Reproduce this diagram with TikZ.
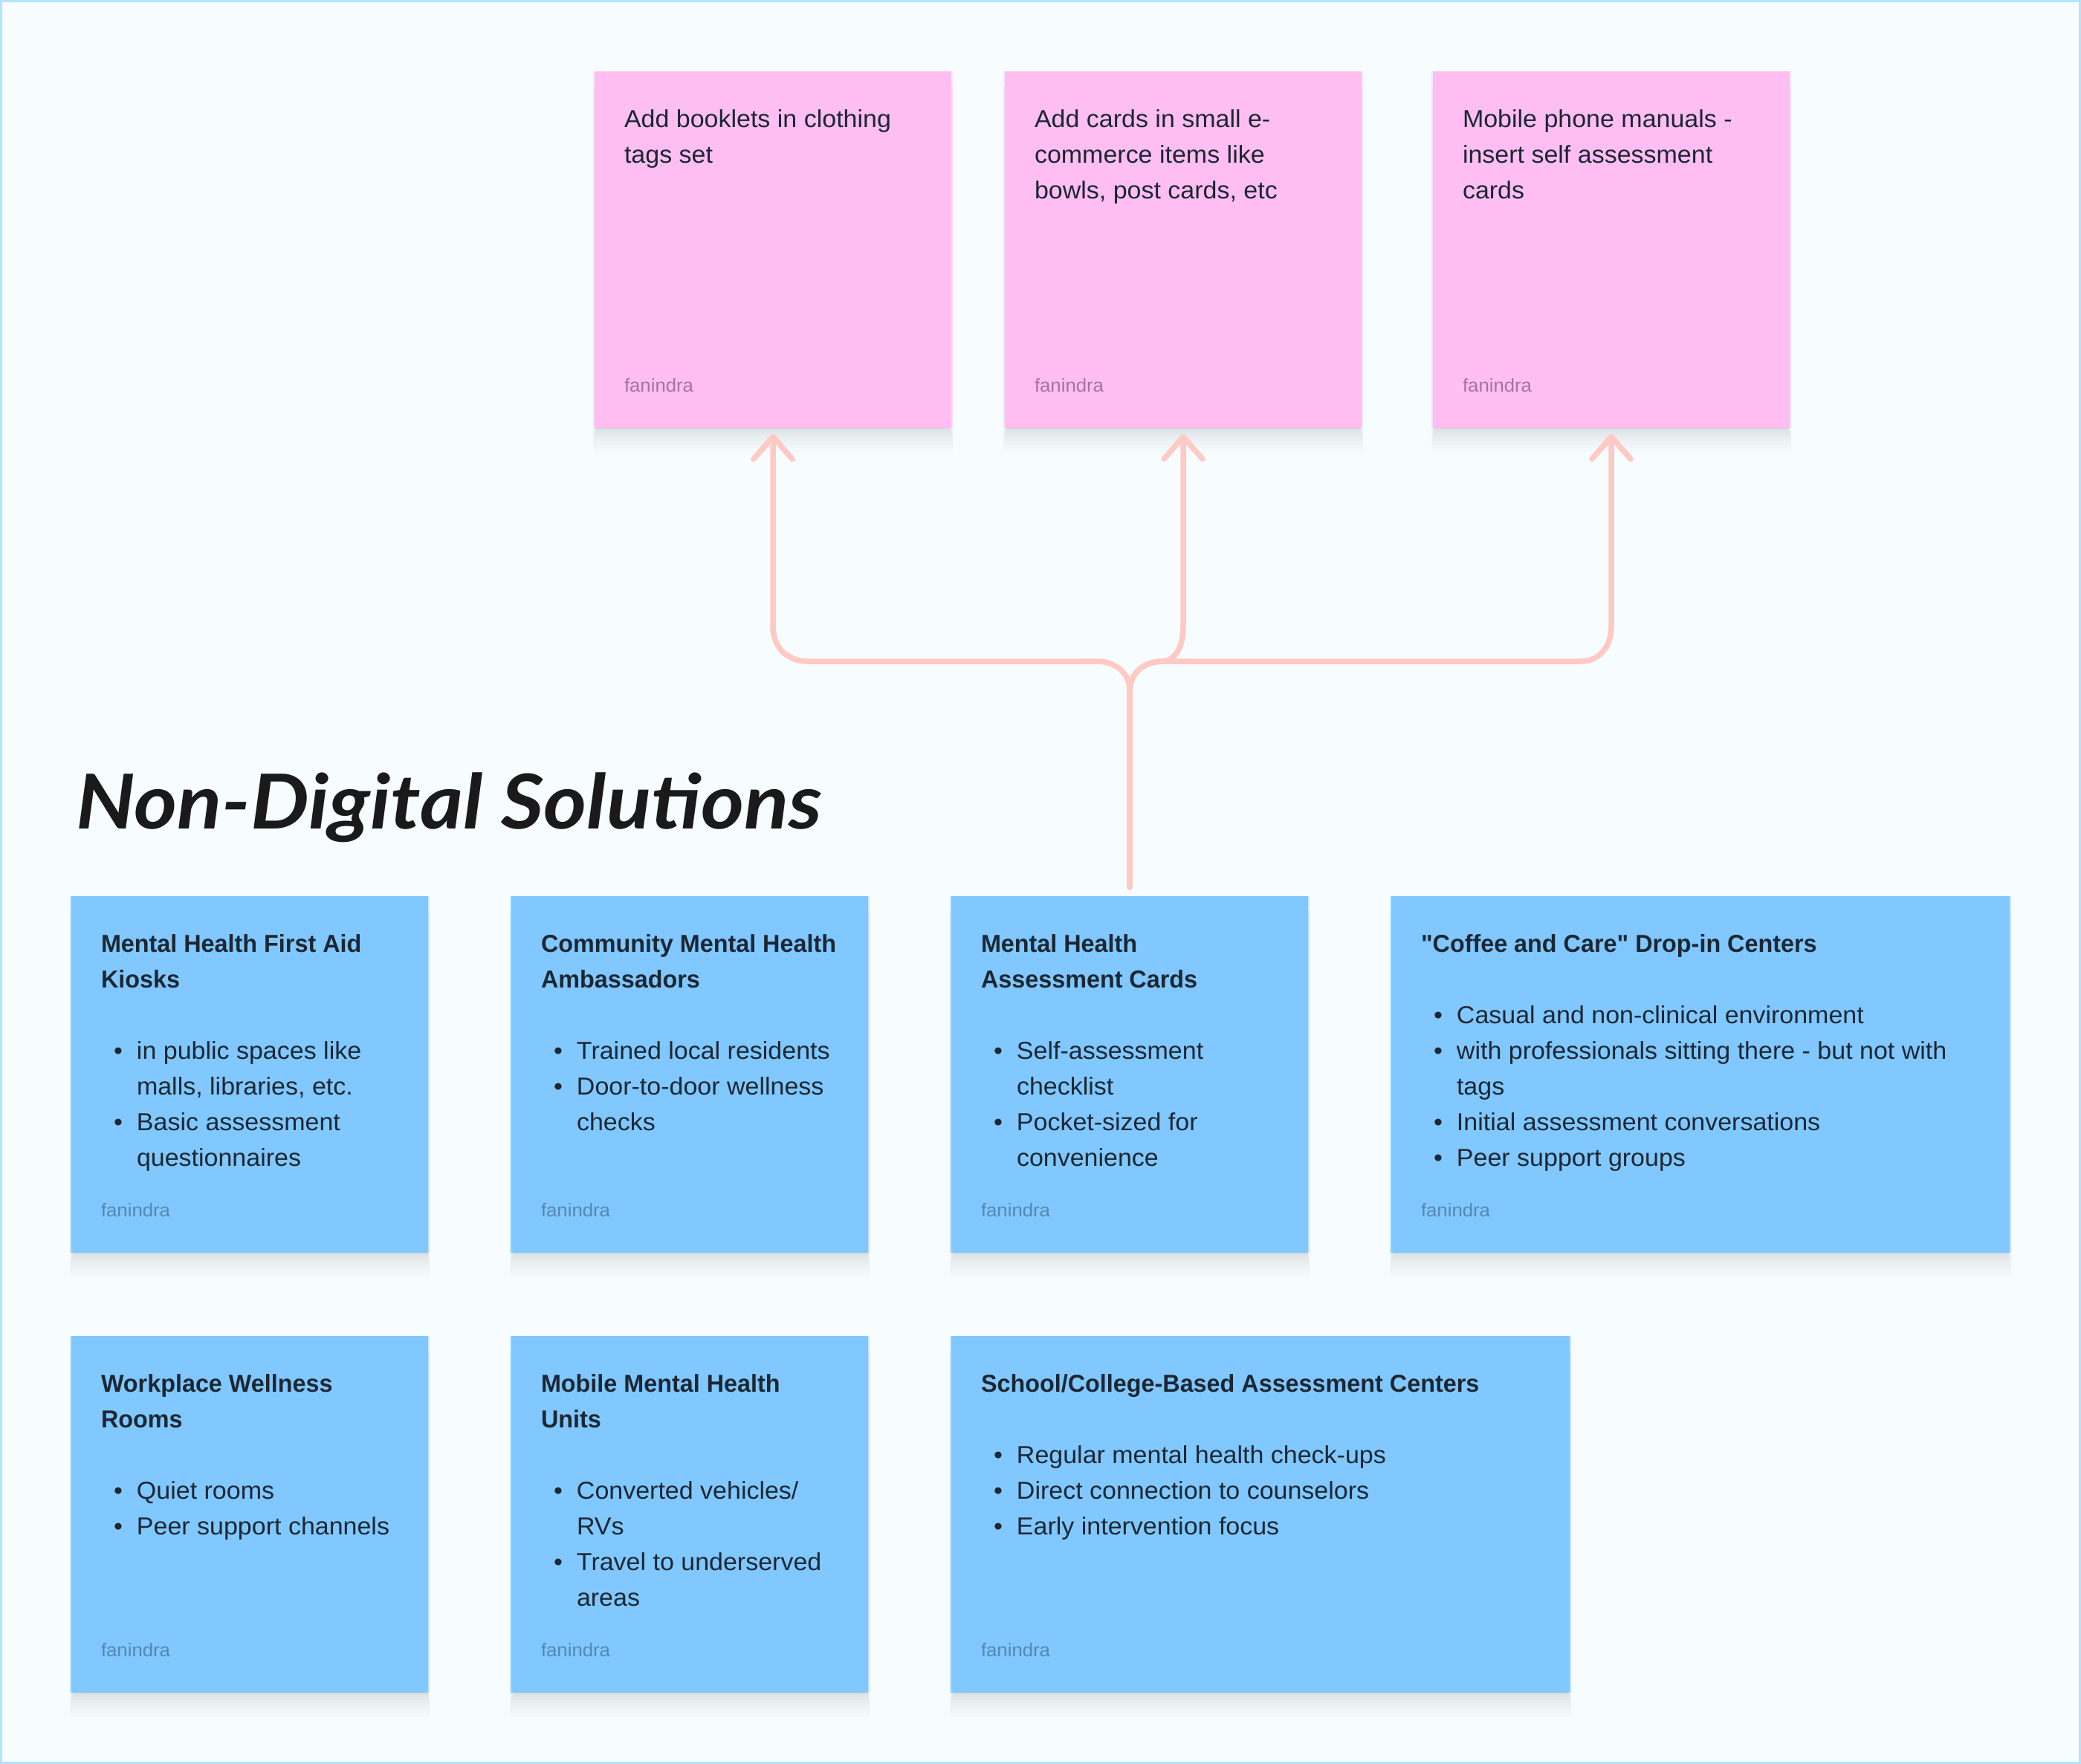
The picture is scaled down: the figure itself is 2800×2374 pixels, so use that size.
\documentclass[tikz,border=0pt]{standalone}
\usepackage{fontspec}
\usepackage{graphicx}
\setmainfont{Liberation Sans}[FakeStretch=1.03,BoldFeatures={FakeStretch=0.98}]
\newfontfamily\handfont{Lato}
\newfontfamily\quotefont{Liberation Sans Bold}[Ligatures=Common]
\usetikzlibrary{arrows.meta,calc}
\definecolor{pagebg}{HTML}{F7FCFF}
\definecolor{pageline}{HTML}{B2E4FF}
\definecolor{pinkcard}{HTML}{FFBEF2}
\definecolor{bluecard}{HTML}{80C8FF}
\definecolor{inkdark}{HTML}{1C2733}
\definecolor{titleink}{HTML}{1A1A1A}
\definecolor{pinkauthor}{HTML}{A2749C}
\definecolor{blueauthor}{HTML}{5688B2}
\definecolor{arrowpink}{HTML}{FFC9C4}
\newcommand{\B}{\strut\makebox[48pt][l]{\hspace{17pt}\textbullet}}
\newcommand{\I}{\strut\hspace*{48pt}}
\newcommand{\E}{\strut}
\newcommand{\T}[1]{\strut\textbf{#1}}
\newcommand{\Q}{{\quotefont\symbol{34}}}
% name, fill, author colour, x, y, width, text
\newcommand{\card}[7]{%
  \foreach \s in {0,1,...,11}{%
    \fill[black,opacity=.010] ({#4+3-\s*.5},{#5+20}) rectangle ({#4+#6-3+\s*.5},{#5+480+1+\s*\s*.26});
  }
  \fill[#2,opacity=.35] ({#4-2},{#5}) rectangle ({#4+#6+2},{#5+480});
  \node[cardbox,fill=#2,minimum width=#6pt,anchor=north west] (#1) at (#4,#5) {};
  \node[cardtext,anchor=north west] (#1t) at ($(#1.north west)+(40,42)$) {#7};
  \node[authortext,text=#3,anchor=base west] (#1a) at ($(#1.north west)+(40,431)$) {fanindra};
}
\tikzset{
  cardbox/.style={minimum height=480pt,inner sep=0pt,outer sep=0pt,draw=none},
  cardtext/.style={inner sep=0pt,outer sep=0pt,align=left,text=inkdark,font=\fontsize{33}{48}\selectfont},
  authortext/.style={inner sep=0pt,outer sep=0pt,font=\fontsize{25}{30}\selectfont},
  conn/.style={draw=arrowpink,line width=7.5pt,line cap=round,line join=round},
  connarrow/.style={conn,-{Straight Barb[length=30pt,width=52pt,round]}}
}
\begin{document}
\begin{tikzpicture}[x=1pt,y=-1pt]
\useasboundingbox (0,0) rectangle (2800,2374);
\fill[pageline] (0,0) rectangle (2800,2374);
\fill[pagebg] (3,3) rectangle (2797,2371);

\card{pa}{pinkcard}{pinkauthor}{800}{96}{480}{\E Add booklets in clothing\\\E tags set}
\card{pb}{pinkcard}{pinkauthor}{1352}{96}{480}{\E Add cards in small e-\\\E commerce items like\\\E bowls, post cards, etc}
\card{pc}{pinkcard}{pinkauthor}{1928}{96}{480}{\E Mobile phone manuals -\\\E insert self assessment\\\E cards}

\card{ba}{bluecard}{blueauthor}{96}{1206}{480}{\T{Mental Health First Aid}\\\T{Kiosks}\\\E\\\B in public spaces like\\\I malls, libraries, etc.\\\B Basic assessment\\\I questionnaires}
\card{bb}{bluecard}{blueauthor}{688}{1206}{480}{\T{Community Mental Health}\\\T{Ambassadors}\\\E\\\B Trained local residents\\\B Door-to-door wellness\\\I checks}
\card{bc}{bluecard}{blueauthor}{1280}{1206}{480}{\T{Mental Health}\\\T{Assessment Cards}\\\E\\\B Self-assessment\\\I checklist\\\B Pocket-sized for\\\I convenience}
\card{bd}{bluecard}{blueauthor}{1872}{1206}{832}{\T{\Q Coffee and Care\Q{} Drop-in Centers}\\\E\\\B Casual and non-clinical environment\\\B with professionals sitting there - but not with\\\I tags\\\B Initial assessment conversations\\\B Peer support groups}

\card{ca}{bluecard}{blueauthor}{96}{1798}{480}{\T{Workplace Wellness}\\\T{Rooms}\\\E\\\B Quiet rooms\\\B Peer support channels}
\card{cb}{bluecard}{blueauthor}{688}{1798}{480}{\T{Mobile Mental Health}\\\T{Units}\\\E\\\B Converted vehicles/\\\I RVs\\\B Travel to underserved\\\I areas}
\card{cc}{bluecard}{blueauthor}{1280}{1798}{832}{\T{School/College-Based Assessment Centers}\\\E\\\B Regular mental health check-ups\\\B Direct connection to counselors\\\B Early intervention focus}

\node[inner sep=0pt,outer sep=0pt,anchor=north west,text=titleink] (title) at (102,1040)
  {\resizebox*{1004pt}{94pt}{\handfont\bfseries\itshape Non-Digital Solutions}};

\coordinate (src) at ($(bc.north)+(0,-12)$);
\coordinate (merge) at (1520,930);
\coordinate (ta) at ($(pa.south)+(0,8)$);
\coordinate (tb) at ($(pb.south)+(0,8)$);
\coordinate (tc) at ($(pc.south)+(0,8)$);

\draw[connarrow] (src) -- (merge) .. controls (1520,905) and (1500,890) .. (1476,890) -- (1087,890) .. controls (1058,890) and (1040,870) .. (1040,843) -- (ta);
\draw[connarrow] (src) -- (merge) .. controls (1520,905) and (1540,890) .. (1565,890) .. controls (1582,888) and (1592,870) .. (1592,843) -- (tb);
\draw[connarrow] (src) -- (merge) .. controls (1520,905) and (1540,890) .. (1565,890) -- (2127,890) .. controls (2152,890) and (2168,870) .. (2168,843) -- (tc);
\end{tikzpicture}
\end{document}
